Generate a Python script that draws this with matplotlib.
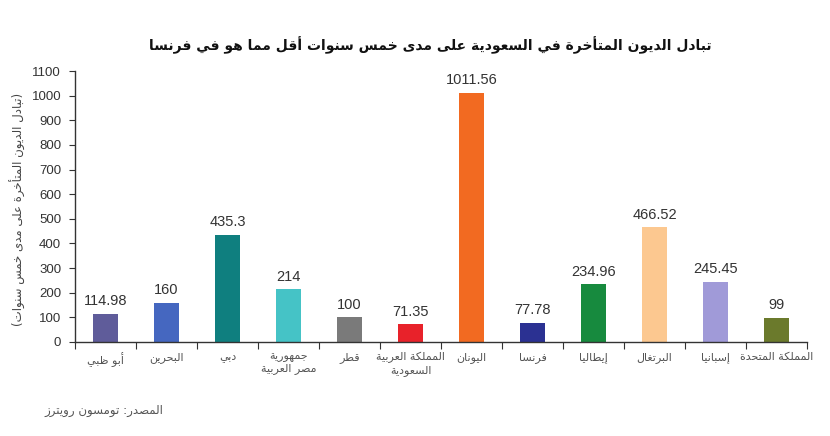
import matplotlib
matplotlib.use("Agg")
import matplotlib.pyplot as plt
import numpy as np

# ---------------- data ----------------
categories = ["أبو ظبي", "البحرين", "دبي", "جمهورية\nمصر العربية", "قطر",
              "المملكة العربية\nالسعودية", "اليونان", "فرنسا", "إيطاليا",
              "البرتغال", "إسبانيا", "المملكة المتحدة"]
values = [114.98, 160, 435.3, 214, 100, 71.35, 1011.56, 77.78, 234.96, 466.52, 245.45, 99]
value_labels = ["114.98", "160", "435.3", "214", "100", "71.35", "1011.56",
                "77.78", "234.96", "466.52", "245.45", "99"]
colors = ["#5f5c9a", "#4567c0", "#0f7f7f", "#45c3c6", "#7a7a7a", "#e8222a",
          "#f26a21", "#2b3192", "#178a3e", "#fcc890", "#a09ad8", "#6b7a2c"]
yticks = list(range(0, 1101, 100))
title = "تبادل الديون المتأخرة في السعودية على مدى خمس سنوات أقل مما هو في فرنسا"
ylabel = "(تبادل الديون المتأخرة على مدى خمس سنوات)"
source = "المصدر: تومسون رويترز"

# ---------------- minimal Arabic shaping ----------------
_ONE = {'ء': 0xFE80}
_TWO = {'آ': 0xFE81, 'أ': 0xFE83, 'ؤ': 0xFE85, 'إ': 0xFE87, 'ا': 0xFE8D, 'ة': 0xFE93,
        'د': 0xFEA9, 'ذ': 0xFEAB, 'ر': 0xFEAD, 'ز': 0xFEAF, 'و': 0xFEED, 'ى': 0xFEEF}
_FOUR = {'ئ': 0xFE89, 'ب': 0xFE8F, 'ت': 0xFE95, 'ث': 0xFE99, 'ج': 0xFE9D, 'ح': 0xFEA1,
         'خ': 0xFEA5, 'س': 0xFEB1, 'ش': 0xFEB5, 'ص': 0xFEB9, 'ض': 0xFEBD, 'ط': 0xFEC1,
         'ظ': 0xFEC5, 'ع': 0xFEC9, 'غ': 0xFECD, 'ف': 0xFED1, 'ق': 0xFED5, 'ك': 0xFED9,
         'ل': 0xFEDD, 'م': 0xFEE1, 'ن': 0xFEE5, 'ه': 0xFEE9, 'ي': 0xFEF1}
_LAMALEF = {'آ': 0xFEF5, 'أ': 0xFEF7, 'إ': 0xFEF9, 'ا': 0xFEFB}


def _shape_line(s):
    toks = []
    i = 0
    while i < len(s):
        c = s[i]
        if c == 'ل' and i + 1 < len(s) and s[i + 1] in _LAMALEF:
            toks.append(('LA', s[i + 1]))
            i += 2
        else:
            toks.append((c, None))
            i += 1

    def joins_next(t):
        return t[0] in _FOUR

    def joinable(t):
        return t[0] == 'LA' or t[0] in _TWO or t[0] in _FOUR

    res = []
    for k, t in enumerate(toks):
        prev = toks[k - 1] if k > 0 else None
        nxt = toks[k + 1] if k + 1 < len(toks) else None
        jp = prev is not None and joins_next(prev)
        c = t[0]
        if c == 'LA':
            res.append(chr(_LAMALEF[t[1]] + (1 if jp else 0)))
        elif c in _FOUR:
            jn = nxt is not None and joinable(nxt)
            b = _FOUR[c]
            if jp and jn:
                res.append(chr(b + 3))
            elif jp:
                res.append(chr(b + 1))
            elif jn:
                res.append(chr(b + 2))
            else:
                res.append(chr(b))
        elif c in _TWO:
            res.append(chr(_TWO[c] + (1 if jp else 0)))
        elif c in _ONE:
            res.append(chr(_ONE[c]))
        else:
            res.append(c)
    vis = ''.join(reversed(res))
    return vis.translate(str.maketrans('()', ')('))


def ar(s):
    return '\n'.join(_shape_line(line) for line in s.split('\n'))


NUM_FONT = ['Liberation Sans', 'DejaVu Sans']
AR_FONT = ['DejaVu Sans']

# ---------------- plot ----------------
plt.rcParams['font.family'] = AR_FONT
fig = plt.figure(figsize=(8.3, 4.36), dpi=100)
ax = fig.add_axes([0.0904, 0.2156, 0.8819, 0.6214])

x = np.arange(len(categories))
ax.bar(x, values, width=0.41, color=colors, zorder=2)

for xi, v, lab in zip(x, values, value_labels):
    ax.annotate(lab, (xi, v), xytext=(0, 4), textcoords='offset points',
                ha='center', va='bottom', fontsize=10.5, color='#333333',
                family=NUM_FONT)

ax.set_xlim(-0.5, len(categories) - 0.5)
ax.set_ylim(0, 1100)
ax.set_yticks(yticks)
ax.set_yticklabels([str(t) for t in yticks], fontsize=9.5, color='#333333',
                   family=NUM_FONT)

ax.set_xticks(np.arange(-0.5, len(categories), 1.0))
ax.set_xticklabels([])
ax.set_xticks(x, minor=True)
ax.set_xticklabels([ar(c) for c in categories], minor=True, fontsize=8, color='#555555')
ax.tick_params(axis='x', which='major', length=5, direction='out', color='#333333')
ax.tick_params(axis='x', which='minor', length=0, pad=7)
ax.tick_params(axis='y', length=4, direction='out', color='#333333', pad=6)

for s in ['top', 'right']:
    ax.spines[s].set_visible(False)
for s in ['left', 'bottom']:
    ax.spines[s].set_color('#333333')
    ax.spines[s].set_linewidth(1.0)

fig.text(0.518, 0.897, ar(title), ha='center', va='center', fontsize=10,
         fontweight='bold', color='#111111')
fig.text(0.022, 0.52, ar(ylabel), ha='center', va='center', rotation=90,
         fontsize=8.5, color='#444444')
fig.text(0.125, 0.058, ar(source), ha='center', va='center', fontsize=8.5,
         color='#555555')

fig.savefig('out.png', dpi=100)
